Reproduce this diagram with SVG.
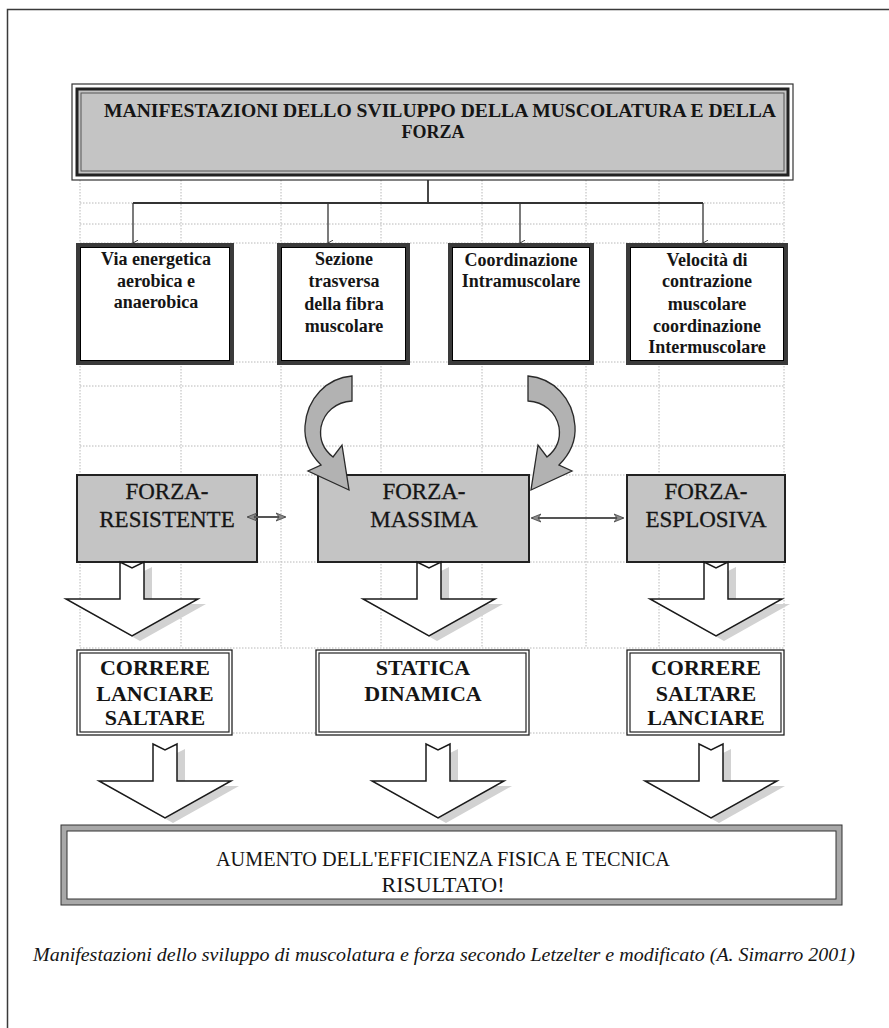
<svg xmlns="http://www.w3.org/2000/svg" width="889" height="1028" viewBox="0 0 889 1028">
  <defs>
    <style>
      .grid { stroke: #b8b8b8; stroke-width: 1; stroke-dasharray: 1.5 1.5; fill: none; }
      .bus { stroke: #333; stroke-width: 1.8; fill: none; }
      .drop { stroke: #333; stroke-width: 1.3; fill: none; }
      .link { stroke: #555; stroke-width: 1.8; fill: none; }
      .serif { font-family: "Liberation Serif", "Times New Roman", serif; fill: #151515; }
      .b { font-weight: bold; }
      .t15 { font-size: 18px; }
      .t23 { font-size: 23px; stroke: #151515; stroke-width: 0.3; }
      .t22 { font-size: 22px; }
      .mid { text-anchor: middle; }
      .blk { fill: #fff; stroke: #1a1a1a; stroke-width: 1.5; stroke-linejoin: miter; }
      .blkshadow { fill: #d2d2d2; stroke: none; }
      .curve { fill: #b2b2b2; stroke: #2a2a2a; stroke-width: 1.3; stroke-linejoin: miter; }
      .gray { fill: #c4c4c4; }
    </style>
    <marker id="tiny" viewBox="0 0 8 8" refX="4" refY="7" markerWidth="6" markerHeight="6" orient="auto-start-reverse" markerUnits="userSpaceOnUse">
      <path d="M0,0 L4,7 L8,0" fill="none" stroke="#333" stroke-width="1.2"/>
    </marker>
    <marker id="dbl" viewBox="0 0 10 10" refX="9" refY="5" markerWidth="10" markerHeight="10" orient="auto-start-reverse" markerUnits="userSpaceOnUse">
      <path d="M0,1 L10,5 L0,9 L3,5 Z" fill="#8a8a8a" stroke="#444" stroke-width="0.8"/>
    </marker>
    <!-- block arrow pointing down, origin at centre of the shaft top -->
    <g id="downArrow">
      <path class="blkshadow" transform="translate(8,5)" d="M-12,0 L0,6 L12,0 L12,37 L66,37 L0,74 L-66,37 L-12,37 Z"/>
      <path class="blk" d="M-12,0 L0,6 L12,0 L12,37 L66,37 L0,74 L-66,37 L-12,37 Z"/>
    </g>
    <!-- curved arrow bending left then down-right -->
    <path id="curveArrow" class="curve" d="M352,376 L352,401 C336,402 324,412 321,427 C319,440 324,450 333,457 L342,445 L349,490 L308,471 L321,465 C309,453 304,440 305,426 C307,398 327,378 352,376 Z"/>
  </defs>

  <rect width="889" height="1028" fill="#fff"/>

  <!-- page frame -->
  <path d="M7.5,1028 V9.5 H889" fill="none" stroke="#3a3a3a" stroke-width="1.5"/>

  <!-- spreadsheet grid behind the chart -->
  <g id="grid" class="grid">
    <path d="M80,203 H784 M80,224 H784 M80,243 H784 M80,362 H784 M80,386 H784 M80,446 H784 M80,475 H784 M80,562 H784 M80,648 H784 M80,733 H784"/>
    <path d="M80,180 V648 M181,180 V648 M281,180 V648 M381,180 V648 M482,180 V648 M586,180 V648 M659,180 V648 M784,180 V648"/>
  </g>

  <!-- header -->
  <g id="header">
    <rect x="72" y="84" width="721" height="96" fill="#fff" stroke="#333" stroke-width="1.2"/>
    <rect x="77" y="89" width="711" height="86" class="gray" stroke="#222" stroke-width="3"/>
    <rect x="81" y="93" width="703" height="78" fill="none" stroke="#555" stroke-width="1"/>
    <text class="serif b mid" font-size="18" x="440" y="117" textLength="672" lengthAdjust="spacingAndGlyphs">MANIFESTAZIONI DELLO SVILUPPO DELLA MUSCOLATURA E DELLA</text>
    <text class="serif b mid" font-size="18" x="433" y="138">FORZA</text>
  </g>

  <!-- first level: four components -->
  <g id="via-energetica">
    <rect x="78" y="245" width="154" height="118" fill="#fff" stroke="#3a3a3a" stroke-width="4"/>
    <rect x="80.5" y="247.5" width="149" height="113" fill="none" stroke="#000" stroke-width="1"/>
    <g class="serif b t15 mid">
      <text x="156" y="265">Via energetica</text>
      <text x="156" y="287">aerobica e</text>
      <text x="156" y="308">anaerobica</text>
    </g>
  </g>
  <g id="sezione-trasversa">
    <rect x="279" y="245" width="129" height="118" fill="#fff" stroke="#3a3a3a" stroke-width="4"/>
    <rect x="281.5" y="247.5" width="124" height="113" fill="none" stroke="#000" stroke-width="1"/>
    <g class="serif b t15 mid">
      <text x="344" y="265">Sezione</text>
      <text x="344" y="287">trasversa</text>
      <text x="344" y="310">della fibra</text>
      <text x="344" y="332">muscolare</text>
    </g>
  </g>
  <g id="coordinazione-intra">
    <rect x="450" y="245" width="142" height="118" fill="#fff" stroke="#3a3a3a" stroke-width="4"/>
    <rect x="452.5" y="247.5" width="137" height="113" fill="none" stroke="#000" stroke-width="1"/>
    <g class="serif b t15 mid">
      <text x="521" y="266">Coordinazione</text>
      <text x="521" y="287">Intramuscolare</text>
    </g>
  </g>
  <g id="velocita-contrazione">
    <rect x="628" y="245" width="158" height="118" fill="#fff" stroke="#3a3a3a" stroke-width="4"/>
    <rect x="630.5" y="247.5" width="153" height="113" fill="none" stroke="#000" stroke-width="1"/>
    <g class="serif b t15 mid">
      <text x="707" y="266">Velocità di</text>
      <text x="707" y="287">contrazione</text>
      <text x="707" y="310">muscolare</text>
      <text x="707" y="332">coordinazione</text>
      <text x="707" y="353">Intermuscolare</text>
    </g>
  </g>

  <!-- second level: kinds of strength -->
  <g id="forza-resistente">
    <rect x="77" y="475" width="180" height="87" class="gray" stroke="#222" stroke-width="2"/>
    <g class="serif t23 mid">
      <text x="167" y="499">FORZA-</text>
      <text x="167" y="527">RESISTENTE</text>
    </g>
  </g>
  <g id="forza-massima">
    <rect x="318" y="475" width="211" height="87" class="gray" stroke="#222" stroke-width="2"/>
    <g class="serif t23 mid">
      <text x="424" y="499">FORZA-</text>
      <text x="424" y="527">MASSIMA</text>
    </g>
  </g>
  <g id="forza-esplosiva">
    <rect x="627" y="475" width="158" height="87" class="gray" stroke="#222" stroke-width="2"/>
    <g class="serif t23 mid">
      <text x="706" y="499">FORZA-</text>
      <text x="706" y="527">ESPLOSIVA</text>
    </g>
  </g>

  <!-- third level: activities -->
  <g id="attivita-resistente">
    <rect x="77" y="650" width="155" height="85" fill="#fff" stroke="#222" stroke-width="1.3"/>
    <rect x="80" y="653" width="149" height="79" fill="none" stroke="#222" stroke-width="1.2"/>
    <g class="serif b t22 mid">
      <text x="155" y="675">CORRERE</text>
      <text x="155" y="701">LANCIARE</text>
      <text x="155" y="725">SALTARE</text>
    </g>
  </g>
  <g id="attivita-massima">
    <rect x="316" y="650" width="213" height="85" fill="#fff" stroke="#222" stroke-width="1.3"/>
    <rect x="319" y="653" width="207" height="79" fill="none" stroke="#222" stroke-width="1.2"/>
    <g class="serif b t22 mid">
      <text x="423" y="675">STATICA</text>
      <text x="423" y="701">DINAMICA</text>
    </g>
  </g>
  <g id="attivita-esplosiva">
    <rect x="627" y="650" width="157" height="85" fill="#fff" stroke="#222" stroke-width="1.3"/>
    <rect x="630" y="653" width="151" height="79" fill="none" stroke="#222" stroke-width="1.2"/>
    <g class="serif b t22 mid">
      <text x="706" y="675">CORRERE</text>
      <text x="706" y="701">SALTARE</text>
      <text x="706" y="725">LANCIARE</text>
    </g>
  </g>

  <!-- result -->
  <g id="risultato">
    <rect x="64" y="828" width="775" height="74" fill="#fff" stroke="#a8a8a8" stroke-width="6"/>
    <rect x="61" y="825" width="781" height="80" fill="none" stroke="#333" stroke-width="1"/>
    <rect x="67" y="831" width="769" height="68" fill="none" stroke="#333" stroke-width="1"/>
    <g class="serif t22 mid">
      <text x="443" y="866" textLength="454" lengthAdjust="spacingAndGlyphs">AUMENTO DELL'EFFICIENZA FISICA E TECNICA</text>
      <text x="443" y="892">RISULTATO!</text>
    </g>
  </g>

  <!-- connectors, drawn over the boxes they touch -->
  <g id="connectors">
    <path class="bus" d="M428,180 V203" stroke-width="3"/>
    <path class="bus" d="M133,203 H703"/>
    <path class="drop" d="M133,203 V243" marker-end="url(#tiny)"/>
    <path class="drop" d="M328,203 V243" marker-end="url(#tiny)"/>
    <path class="drop" d="M520,203 V243" marker-end="url(#tiny)"/>
    <path class="drop" d="M703,203 V243" marker-end="url(#tiny)"/>

    <use href="#curveArrow"/>
    <use href="#curveArrow" transform="translate(880,0) scale(-1,1)"/>

    <path class="link" d="M248,517 H285" marker-start="url(#dbl)" marker-end="url(#dbl)"/>
    <path class="link" d="M532,518 H623" marker-start="url(#dbl)" marker-end="url(#dbl)"/>

    <use href="#downArrow" x="132" y="562"/>
    <use href="#downArrow" x="429" y="562"/>
    <use href="#downArrow" x="716" y="562"/>
    <use href="#downArrow" x="165" y="744"/>
    <use href="#downArrow" x="438" y="744"/>
    <use href="#downArrow" x="711" y="744"/>
  </g>

  <!-- caption -->
  <text class="serif" font-style="italic" font-size="19" x="33" y="961" textLength="822" lengthAdjust="spacingAndGlyphs">Manifestazioni dello sviluppo di muscolatura e forza secondo Letzelter  e modificato (A. Simarro 2001)</text>
</svg>
